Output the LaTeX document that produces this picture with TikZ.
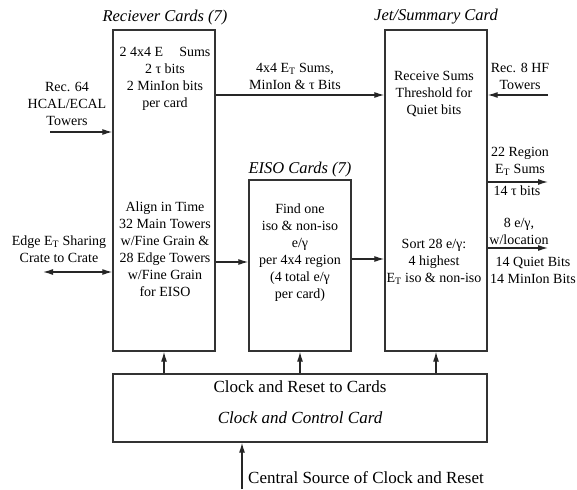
\documentclass[tikz,border=0pt]{standalone}
\usepackage{fontspec}
\setmainfont{Liberation Serif}
\usetikzlibrary{arrows.meta}
\begin{document}
\begin{tikzpicture}[x=1pt,y=-1pt,
  card/.style={draw=black!80,line width=1.4pt,inner sep=0pt},
  txt/.style={align=center,inner sep=0pt,font=\fontsize{14}{17}\selectfont},
  ttl/.style={inner sep=0pt,font=\fontsize{16.5}{19}\selectfont\itshape},
  big/.style={inner sep=0pt,font=\fontsize{17}{20}\selectfont},
  arr/.style={draw=black!85,line width=1.2pt,-{Latex[length=10pt,width=6pt]}},
  darr/.style={draw=black!85,line width=1.2pt,{Latex[length=10pt,width=6pt]}-{Latex[length=10pt,width=6pt]}}]
\useasboundingbox (0,0) rectangle (577,489);
% boxes
\node[card,minimum width=102pt,minimum height=321pt] (rec) at (164,190.5) {};
\node[card,minimum width=102pt,minimum height=171pt] (eiso) at (300,265.5) {};
\node[card,minimum width=102pt,minimum height=321pt] (jet) at (436,190.5) {};
\node[card,minimum width=374pt,minimum height=68pt] (clk) at (300,408) {};
% titles
\node[ttl] (trec) at (165,18) {Reciever Cards (7)};
\node[ttl] (tjet) at (436,17) {Jet/Summary Card};
\node[ttl] (teiso) at (300,170) {EISO Cards (7)};
% box texts
\node[txt] (rect1) at (165,79) {2 4x4 E\hspace{0.9em} Sums\\2 τ bits\\2 MinIon bits\\per card};
\node[txt] (rect2) at (165,249.5) {Align in Time\\32 Main Towers\\w/Fine Grain \&\\28 Edge Towers\\w/Fine Grain\\for EISO};
\node[txt] (eisot) at (300,253) {Find one\\iso \& non-iso\\e/γ\\per 4x4 region\\(4 total e/γ\\per card)};
\node[txt] (jett1) at (434,94) {Receive Sums\\Threshold for\\Quiet bits};
\node[txt] (jett2) at (434,262) {Sort 28 e/γ:\\4 highest\\E\textsubscript{T} iso \& non-iso};
\node[big] (clkt1) at (300,387) {Clock and Reset to Cards};
\node[big,font=\fontsize{17}{20}\selectfont\itshape] (clkt2) at (300,418) {Clock and Control Card};
% outside labels
\node[txt] (l64) at (67,104) {Rec. 64\\HCAL/ECAL\\Towers};
\node[txt] (ledge) at (59,249.5) {Edge E\textsubscript{T} Sharing\\Crate to Crate};
\node[txt] (lsums) at (295,76) {4x4 E\textsubscript{T} Sums,\\MinIon \& τ Bits};
\node[txt] (lhf) at (520,76.5) {Rec. 8 HF\\Towers};
\node[txt] (lreg) at (520,161.5) {22 Region\\E\textsubscript{T} Sums};
\node[txt] (ltau) at (517,191) {14 τ bits};
\node[txt] (lloc) at (519,231) {8 e/γ,\\w/location};
\node[txt] (lquiet) at (533,270.5) {14 Quiet Bits\\14 MinIon Bits};
\node[big,anchor=west] (lcentral) at (248,478) {Central Source of Clock and Reset};
% free ends
\coordinate (c64) at (50,132);
\coordinate (cedge) at (43,272);
\coordinate (chf) at (548,95);
\coordinate (creg) at (548,182);
\coordinate (cloc) at (548,248);
\coordinate (ccentral) at (242,489);
% connectors
\draw[arr] (c64) -- (c64 -| rec.west);
\draw[darr] (cedge) -- (cedge -| rec.west);
\draw[arr] (rec.east |- chf) -- (jet.west |- chf);
\draw[arr] (chf) -- (chf -| jet.east);
\draw[arr] (rec.east |- 0,262) -- (eiso.west |- 0,262);
\draw[arr] (eiso.east |- 0,259) -- (jet.west |- 0,259);
\draw[arr] (jet.east |- creg) -- (creg);
\draw[arr] (jet.east |- cloc) -- (cloc);
\draw[arr] (clk.north -| rec.south) -- (rec.south);
\draw[arr] (clk.north -| eiso.south) -- (eiso.south);
\draw[arr] (clk.north -| jet.south) -- (jet.south);
\draw[arr] (ccentral) -- (ccentral |- clk.south);
\end{tikzpicture}
\end{document}
